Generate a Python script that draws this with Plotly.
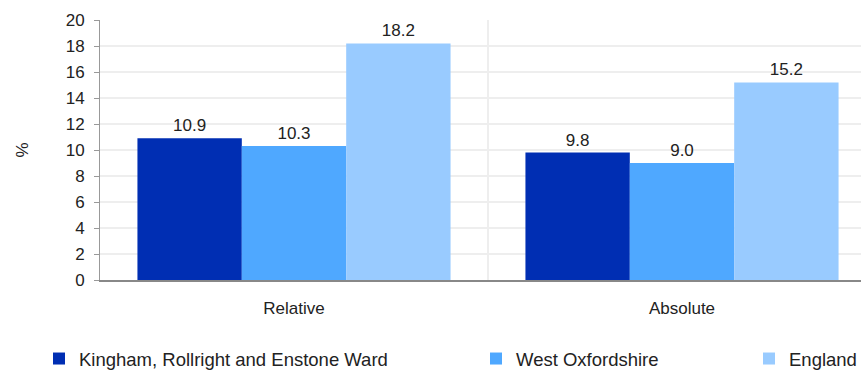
import plotly.graph_objects as go

categories = ["Relative", "Absolute"]
series_names = ["Kingham, Rollright and Enstone Ward", "West Oxfordshire", "England"]
ward_values = [10.9, 9.8]
district_values = [10.3, 9.0]
england_values = [18.2, 15.2]
y_ticks = [0, 2, 4, 6, 8, 10, 12, 14, 16, 18, 20]

colors = ["#002EB3", "#4FA8FF", "#99CBFF"]
values = [ward_values, district_values, england_values]
legend_ids = ["legend", "legend2", "legend3"]

FIG_W = 876  # the reference plot area runs past the right edge of the 861px view

font = dict(family="Liberation Sans, Arial, sans-serif", size=17, color="#222222")

fig = go.Figure()
for name, vals, col, lg in zip(series_names, values, colors, legend_ids):
    fig.add_trace(go.Bar(
        x=categories, y=vals, name=name, marker=dict(color=col, line=dict(width=0)),
        text=[f"{v:.1f}" for v in vals], textposition="outside", cliponaxis=False,
        textfont=dict(size=17, color="#222222"), legend=lg, showlegend=True,
    ))

def cx(px):
    return px / float(FIG_W)

leg_common = dict(orientation="h", yanchor="middle", y=1 - 359 / 370.0, xanchor="left",
                  xref="container", yref="container",
                  font=dict(size=18.5, color="#222222"), bgcolor="rgba(0,0,0,0)")
fig.update_layout(
    width=FIG_W, height=370, autosize=False,
    margin=dict(l=100, r=0, t=20, b=90, autoexpand=False),
    paper_bgcolor="white", plot_bgcolor="white",
    font=font,
    barmode="group", bargap=0.193, bargroupgap=0,
    legend=dict(x=cx(39), **leg_common),
    legend2=dict(x=cx(476), **leg_common),
    legend3=dict(x=cx(749), **leg_common),
    xaxis=dict(
        type="category", tickson="boundaries", showgrid=True, gridcolor="#eeeeee", gridwidth=2,
        showline=True, linecolor="#888888", linewidth=2, ticks="", ticklabelstandoff=12,
        tickfont=dict(size=17, color="#222222"),
    ),
    yaxis=dict(
        range=[0, 20], tickvals=y_ticks, showgrid=True, gridcolor="#eeeeee", gridwidth=2,
        showline=True, linecolor="#999999", linewidth=1, ticks="outside", ticklen=5,
        tickcolor="#999999", tickfont=dict(size=17, color="#222222"), ticklabelstandoff=6,
        title=dict(text="%", font=dict(size=17, color="#222222"), standoff=32),
        zeroline=False, automargin=False,
    ),
)

fig.write_html("out.html", config={"responsive": False, "displayModeBar": False})

with open("out.html", "r", encoding="utf-8") as f:
    html = f.read()
html = html.replace("<head>", "<head><style>html,body{margin:0;padding:0;overflow:hidden;}</style>", 1)
with open("out.html", "w", encoding="utf-8") as f:
    f.write(html)
